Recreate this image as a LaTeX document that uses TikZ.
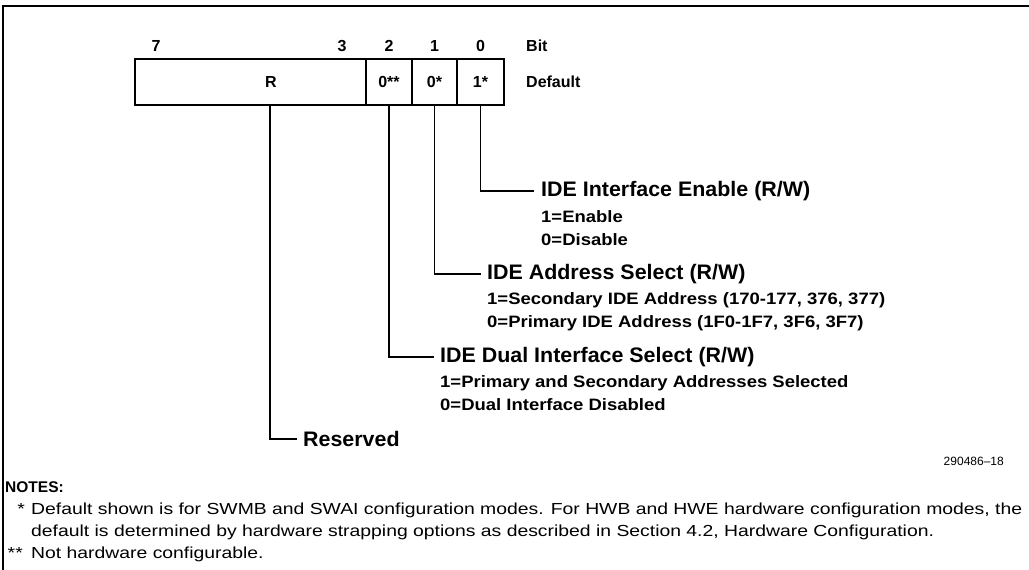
\documentclass[tikz,border=0pt]{standalone}
\usepackage{fontspec}
\setmainfont{Liberation Sans}
\newfontfamily\headfont[FakeStretch=1.02]{Liberation Sans}
\newfontfamily\subfont[FakeStretch=1.12]{Liberation Sans}
\newfontfamily\notefont[FakeStretch=1.21]{Liberation Sans}
\begin{document}
\begin{tikzpicture}[x=1pt,y=-1pt,
  head/.style={anchor=west,inner sep=0pt,font=\headfont\bfseries\fontsize{21}{24}\selectfont},
  sub/.style={anchor=base west,inner sep=0pt,font=\subfont\bfseries\fontsize{16.5}{18}\selectfont},
  note/.style={anchor=base west,inner sep=0pt,font=\notefont\fontsize{16}{18}\selectfont},
  lab/.style={inner sep=0pt,font=\bfseries\fontsize{16}{18}\selectfont},
  cell/.style={draw,line width=1.5pt,minimum height=46pt,inner sep=0pt,font=\bfseries\fontsize{16}{18}\selectfont},
  wire/.style={line width=1.5pt},
  frame/.style={line width=2pt}]
\useasboundingbox (0,0) rectangle (1029,570);
% frame
\draw[frame] (3,570) -- (3,6) -- (1029,6);
% register cells
\node[cell,minimum width=231pt] (cR) at (250.5,82) {};
\node[cell,minimum width=46pt] (c2) at (389,82) {0**};
\node[cell,minimum width=45pt] (c1) at (434.5,82) {0*};
\node[cell,minimum width=47pt] (c0) at (480.5,82) {1*};
\node[lab] (rlab) at (271,82) {R};
% bit numbers
\node[lab,anchor=base] (b7) at (156,51.5) {7};
\node[lab,anchor=base] (b3) at (342,51.5) {3};
\node[lab,anchor=base] (b2) at (389,51.5) {2};
\node[lab,anchor=base] (b1) at (434.5,51.5) {1};
\node[lab,anchor=base] (b0) at (480.5,51.5) {0};
\node[lab,anchor=base west] (bit) at (526,51.5) {Bit};
\node[lab,anchor=west] (dflt) at (526,82) {Default};
% field descriptions
\node[head] (h0) at (541,191) {IDE Interface Enable (R/W)};
\node[sub] (s0a) at (541,222.5) {1=Enable};
\node[sub] (s0b) at (541,245) {0=Disable};
\node[head] (h1) at (487,274) {IDE Address Select (R/W)};
\node[sub] (s1a) at (487,304.5) {1=Secondary IDE Address (170-177, 376, 377)};
\node[sub] (s1b) at (487,327) {0=Primary IDE Address (1F0-1F7, 3F6, 3F7)};
\node[head] (h2) at (440,357) {IDE Dual Interface Select (R/W)};
\node[sub] (s2a) at (440,387.5) {1=Primary and Secondary Addresses Selected};
\node[sub] (s2b) at (440,410) {0=Dual Interface Disabled};
\node[head] (hR) at (303,439) {Reserved};
% connectors
\draw[wire] (c0.south) |- ([xshift=-7pt]h0.west);
\draw[wire] (c1.south) |- ([xshift=-6pt]h1.west);
\draw[wire] (c2.south) |- ([xshift=-6pt]h2.west);
\draw[wire] ([xshift=19.5pt]cR.south) |- ([xshift=-6pt]hR.west);
% figure number
\node[anchor=base east,inner sep=0pt,font=\fontsize{12}{14}\selectfont] (fig) at (1004,465) {290486–18};
% notes
\node[anchor=base west,inner sep=0pt,font=\bfseries\fontsize{15.5}{17}\selectfont] (notes) at (5,492.5) {NOTES:};
\node[note,anchor=base east] (st1) at (25,514.5) {*};
\node[note] (n1) at (31,514.5) {Default shown is for SWMB and SWAI configuration modes. For HWB and HWE hardware configuration modes, the};
\node[note] (n2) at (31,536.5) {default is determined by hardware strapping options as described in Section 4.2, Hardware Configuration.};
\node[note,anchor=base east] (st2) at (23,558.5) {**};
\node[note] (n3) at (31,558.5) {Not hardware configurable.};
\end{tikzpicture}
\end{document}
